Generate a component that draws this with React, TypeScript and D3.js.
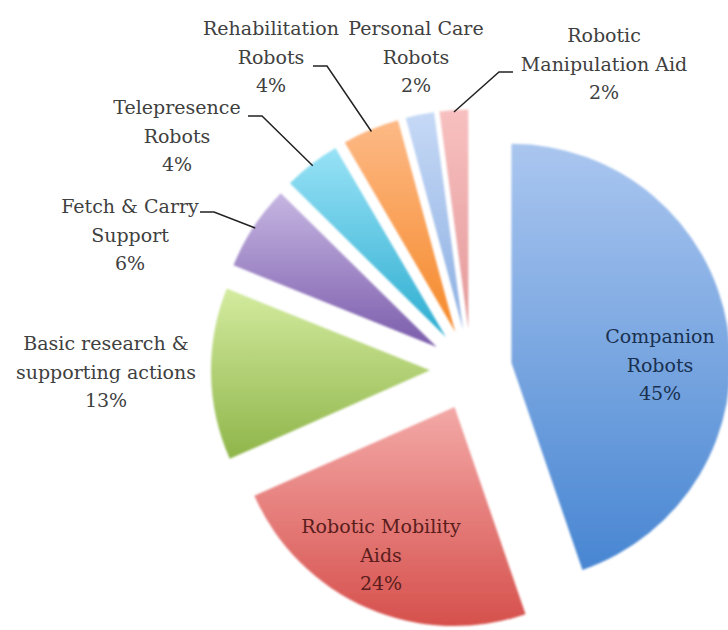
import React from "react";
import * as d3 from "d3";

// ---- data ----
const categories = [
  "Companion Robots",
  "Robotic Mobility Aids",
  "Basic research & supporting actions",
  "Fetch & Carry Support",
  "Telepresence Robots",
  "Rehabilitation Robots",
  "Personal Care Robots",
  "Robotic Manipulation Aid",
];
const shares = [44.7, 23.6, 12.7, 6.3, 4.2, 4.2, 2.1, 2.1];
const labelLines = [
  ["Companion", "Robots"],
  ["Robotic Mobility", "Aids"],
  ["Basic research &", "supporting actions"],
  ["Fetch & Carry", "Support"],
  ["Telepresence", "Robots"],
  ["Rehabilitation", "Robots"],
  ["Personal Care", "Robots"],
  ["Robotic", "Manipulation Aid"],
];

// ---- styles ----
const topColors = ["#aac6ef", "#f3a9a7", "#d3eb9f", "#c6b6e2", "#98e2f6", "#fdb986", "#c6d9f6", "#f8c0c0"];
const bottomColors = ["#4886d2", "#d6504c", "#8fb54a", "#7b5cab", "#2dadd0", "#f5892a", "#8cafe2", "#e49999"];
const textColors = ["#19304f", "#5a1d1c", "#404040", "#404040", "#404040", "#404040", "#404040", "#404040"];

// layout (label anchor: center x, first baseline)
const labelPos: [number, number][] = [
  [660, 343],
  [381, 533],
  [106, 350],
  [130, 213],
  [177, 114],
  [271, 35],
  [416, 35],
  [604, 42],
];
// leader lines: start point near label, horizontal length (null = none)
const leaderStart: ([number, number] | null)[] = [
  null,
  null,
  null,
  [200, 212],
  [248, 116],
  [313, 66],
  null,
  [513, 72],
];
const leaderDir = [0, 0, 0, 1, 1, 1, 0, -1];

const CX = 471;
const CY = 369.5;
const R = 219;
const EXPLODE = 41;
const LINE_H = 28.5;

export default function App() {
  const pie = d3
    .pie<number>()
    .sort(null)
    .startAngle(0)
    .endAngle(2 * Math.PI)
    .value((d) => d);
  const arcs = pie(shares);
  const total = d3.sum(shares);
  const arc = d3.arc<d3.PieArcDatum<number>>().innerRadius(0).outerRadius(R);

  return (
    <svg
      width={728}
      height={630}
      style={{ position: "absolute", left: 0, top: 0, background: "#fff" }}
      fontFamily="'DejaVu Serif', serif"
    >
      <defs>
        {arcs.map((a, i) => (
          <linearGradient key={i} id={`g${i}`} x1="0" y1="0" x2="0" y2="1">
            <stop offset="0" stopColor={topColors[i]} />
            <stop offset="1" stopColor={bottomColors[i]} />
          </linearGradient>
        ))}
        <filter id="soft" x="-5%" y="-5%" width="110%" height="110%">
          <feGaussianBlur stdDeviation="1.1" />
        </filter>
      </defs>
      {arcs.map((a, i) => {
        const mid = (a.startAngle + a.endAngle) / 2;
        const dx = Math.sin(mid) * EXPLODE;
        const dy = -Math.cos(mid) * EXPLODE;
        return (
          <g key={i} transform={`translate(${CX + dx},${CY + dy})`}>
            <path d={arc(a) || ""} fill={`url(#g${i})`} filter="url(#soft)" />
          </g>
        );
      })}
      {arcs.map((a, i) => {
        const s = leaderStart[i];
        if (!s) return null;
        const mid = (a.startAngle + a.endAngle) / 2;
        const ex = CX + Math.sin(mid) * (EXPLODE + R - 2);
        const ey = CY - Math.cos(mid) * (EXPLODE + R - 2);
        const hx = s[0] + leaderDir[i] * 14;
        return (
          <polyline
            key={i}
            points={`${s[0]},${s[1]} ${hx},${s[1]} ${ex},${ey}`}
            fill="none"
            stroke="#222"
            strokeWidth={1.5}
          />
        );
      })}
      {arcs.map((a, i) => {
        const [x, y] = labelPos[i];
        const pct = Math.round((a.value / total) * 100) + "%";
        const lines = [...labelLines[i], pct];
        return (
          <text key={i} x={x} y={y} textAnchor="middle" fontSize={19} fill={textColors[i]}>
            {lines.map((t, k) => (
              <tspan key={k} x={x} y={y + k * LINE_H}>
                {t}
              </tspan>
            ))}
          </text>
        );
      })}
    </svg>
  );
}
